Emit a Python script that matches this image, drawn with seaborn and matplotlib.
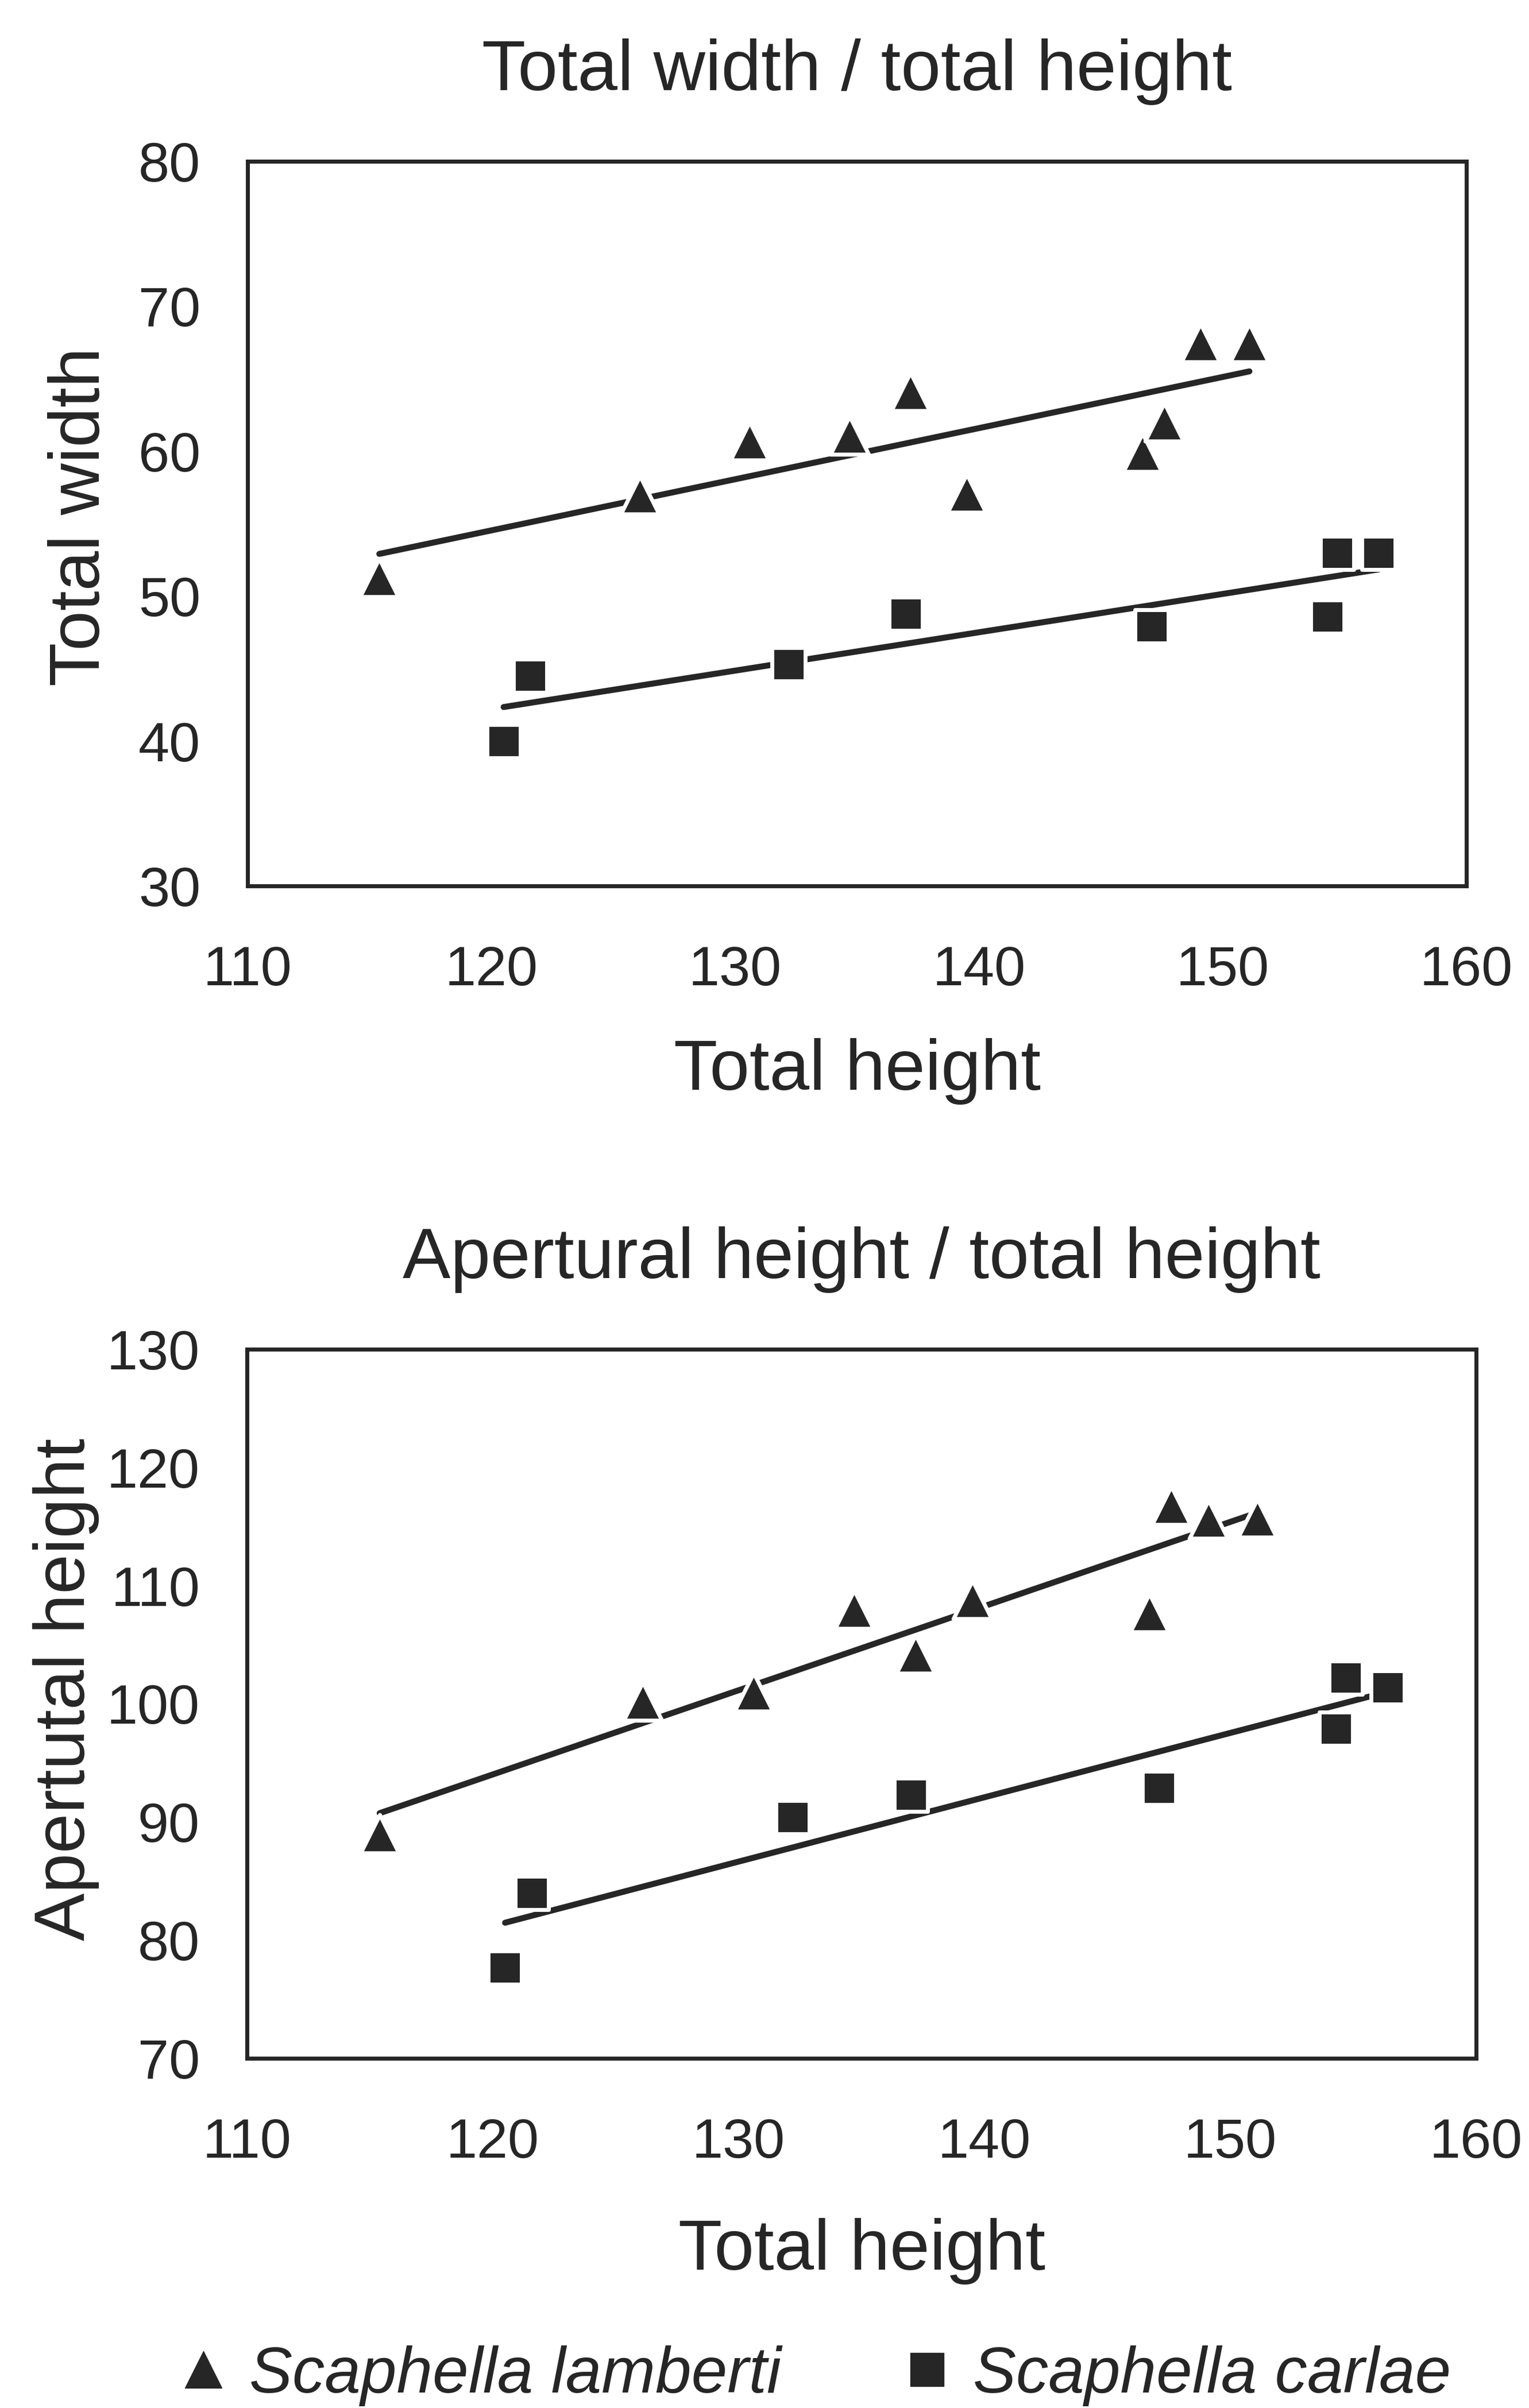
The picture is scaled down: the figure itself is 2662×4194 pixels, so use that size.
import numpy as np
import pandas as pd
import matplotlib.pyplot as plt
import seaborn as sns
from matplotlib.lines import Line2D

lamberti_height = [115.4, 126.1, 130.6, 134.7, 137.2, 139.5, 146.7, 147.6, 149.1, 151.1]
lamberti_width = [51.3, 57.0, 60.7, 61.1, 64.1, 57.1, 59.9, 62.0, 67.5, 67.5]
lamberti_apert = [89.0, 100.2, 101.0, 108.0, 104.2, 108.8, 107.7, 116.8, 115.6, 115.7]

carlae_height = [120.5, 121.6, 132.2, 137.0, 147.1, 154.3, 154.7, 156.4]
carlae_width = [40.0, 44.5, 45.3, 48.8, 47.9, 48.6, 53.0, 53.0]
carlae_apert = [77.7, 84.0, 90.4, 92.3, 92.9, 97.9, 102.2, 101.4]

x_ticks = [110, 120, 130, 140, 150, 160]
top_yticks = [30, 40, 50, 60, 70, 80]
bottom_yticks = [70, 80, 90, 100, 110, 120, 130]

species = ['Scaphella lamberti', 'Scaphella carlae']

lamberti = pd.DataFrame({'height': lamberti_height, 'width': lamberti_width,
                         'apert': lamberti_apert})
carlae = pd.DataFrame({'height': carlae_height, 'width': carlae_width,
                       'apert': carlae_apert})

sns.set_theme(style='white')
plt.rcParams['font.family'] = ['Liberation Sans', 'DejaVu Sans']

ink = '#262626'

fig = plt.figure(figsize=(26.62, 41.94), dpi=100)
ax_top = fig.add_axes([0.162, 0.632, 0.797, 0.301])
ax_bot = fig.add_axes([0.1615, 0.1452, 0.804, 0.2945])


def draw_panel(ax, ycol, title, ylabel, yticks, xlab_y, ylab_x, ylab_y):
    # trend lines first, markers on top with a white rim (gaps in the lines)
    for df in (lamberti, carlae):
        sns.regplot(data=df, x='height', y=ycol, scatter=False, ci=None,
                    truncate=True, ax=ax,
                    line_kws={'color': ink, 'lw': 7.5, 'solid_capstyle': 'round'})
    sns.scatterplot(data=lamberti, x='height', y=ycol, marker='^', s=2300,
                    color=ink, edgecolor='white', linewidth=5, zorder=3, ax=ax)
    sns.scatterplot(data=carlae, x='height', y=ycol, marker='s', s=1800,
                    color=ink, edgecolor='white', linewidth=5, zorder=3, ax=ax)

    ax.set_xlim(110, 160)
    ax.set_ylim(yticks[0], yticks[-1])
    ax.set_xticks(x_ticks)
    ax.set_yticks(yticks)
    ax.tick_params(direction='out', length=19, width=2.5, color=ink,
                   labelsize=70, labelcolor=ink, pad=40)
    ax.tick_params(axis='x', pad=55)
    for sp in ax.spines.values():
        sp.set_visible(True)
        sp.set_linewidth(5)
        sp.set_color(ink)

    ax.set_title(title, fontsize=90, color=ink, pad=89)
    ax.set_xlabel('Total height', fontsize=90, color=ink, va='baseline')
    ax.xaxis.set_label_coords(0.5, xlab_y)
    ax.set_ylabel(ylabel, fontsize=90, color=ink, va='baseline')
    ax.yaxis.set_label_coords(ylab_x, ylab_y)


draw_panel(ax_top, 'width', 'Total width / total height', 'Total width',
           top_yticks, -0.281, -0.1216, 0.51)
draw_panel(ax_bot, 'apert', 'Apertural height / total height', 'Apertutal height',
           bottom_yticks, -0.298, -0.132, 0.52)

handles = [Line2D([], [], ls='none', marker='^', markersize=46, color=ink),
           Line2D([], [], ls='none', marker='s', markersize=42, color=ink)]
fig.legend(handles, species, loc='lower left', bbox_to_anchor=(0.116, 0.0008),
           ncol=2, frameon=False, handlelength=0.8, handletextpad=0.31,
           columnspacing=1.86, borderpad=0, borderaxespad=0,
           prop={'style': 'italic', 'size': 81}, labelcolor=ink)

fig.savefig('out.png', dpi=100, facecolor='white')
